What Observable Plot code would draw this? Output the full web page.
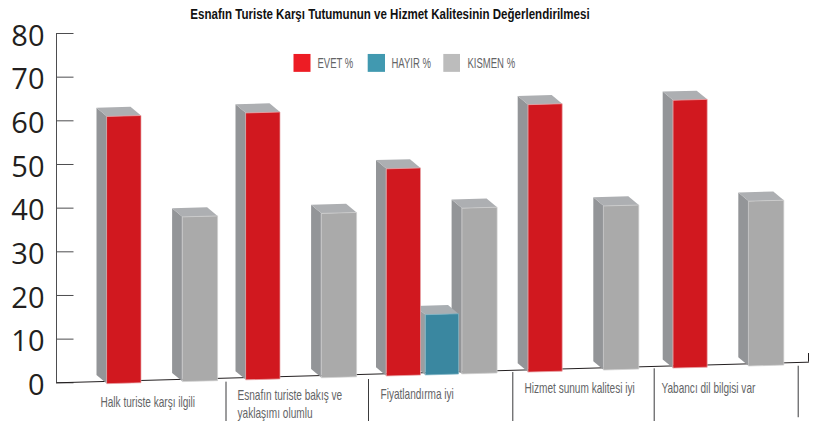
<!DOCTYPE html>
<html><head><meta charset="utf-8">
<script src="https://cdn.jsdelivr.net/npm/d3@7"></script>
<script src="https://cdn.jsdelivr.net/npm/@observablehq/plot@0.6"></script>
<style>html,body{margin:0;padding:0;background:#fff}svg{display:block}</style>
</head><body><div id="chart"></div>
<script>
const title = "Esnafın Turiste Karşı Tutumunun ve Hizmet Kalitesinin Değerlendirilmesi";
const categories = ["Halk turiste karşı ilgili","Esnafın turiste bakış ve\nyaklaşımı olumlu","Fiyatlandırma iyi","Hizmet sunum kalitesi iyi","Yabancı dil bilgisi var"];
const seriesNames = ["EVET %","HAYIR %","KISMEN %"];
const evet = [61,61.8,49,63.7,64.7];
const hayir = [null,null,15.6,null,null];
const kismen = [38,38.8,40,40.5,41.6];
const yTicks = [0,10,20,30,40,50,60,70,80];

// layout, in x-scale units
const groupLeft = [106.5,245.5,386,527.7,672.7];
const seriesOffset = {"EVET %":0,"HAYIR %":39,"KISMEN %":75.6};
const seriesWidth = {"EVET %":34,"HAYIR %":33,"KISMEN %":35};
const dividers = [225.5,368,512.3,653.7,797.7];
const labelX = [100,237,380,524,661];
const labelY = [-2.6,-0.85,-0.75,0.6,0.6];
const depthX = 10.5, depthY = 2, tilt = 0.0063, tiltOrigin = 123, under = -0.1;
const font = "'Liberation Sans',sans-serif";
const palette = {
  "EVET %":{front:"#d1181f",side:"#939598",top:"#adafb2",key:"#ed1c24",edge:"#e8a8ab"},
  "HAYIR %":{front:"#3a87a0",side:"#9a9ea1",top:"#a9aeb2",key:"#4199b0",edge:"#7fb5c5"},
  "KISMEN %":{front:"#aaaaaa",side:"#939598",top:"#adafb2",key:"#bcbcbc",edge:"#d0d0d0"}
};
const base = x => under + (x - tiltOrigin) * tilt;

const bars = [];
[["KISMEN %",kismen],["HAYIR %",hayir],["EVET %",evet]].forEach(([s,vals])=>{
  vals.forEach((v,g)=>{ if(v!=null) bars.push({s,g,v}); });
});
const faces = [];
for (const {s,g,v} of bars) {
  const x0 = groupLeft[g]+seriesOffset[s], x1 = x0+seriesWidth[s];
  const top0 = v, top1 = v+(x1-x0)*tilt, b0 = base(x0), b1 = base(x1);
  const id = s+g, c = palette[s];
  const add = (face,pts)=>pts.forEach(([x,y])=>faces.push({id:id+face,face,x,y,fill:c[face],edge:c.edge}));
  add("side",[[x0-depthX,b0+depthY],[x0,b0],[x0,top0],[x0-depthX,top0+depthY]]);
  add("top",[[x0-depthX,top0+depthY],[x1-depthX,top1+depthY],[x1,top1],[x0,top0]]);
  add("front",[[x0,b0],[x1,b1],[x1,top1],[x0,top0]]);
}
const legendRows = seriesNames.map((s,i)=>({s,x1:[293.5,367.7,443.3][i],x2:[310.5,385,460][i],tx:[317,391,467][i]}));
const axisColor = "#4d4d4f", textColor = "#636466";

// The reference's type is condensed: squeeze each text horizontally around its anchor.
const narrow = k => (index,scales,values,dims,context,next) => {
  const g = next(index,scales,values,dims,context);
  d3.select(g).selectAll("text").attr("transform",function(){return (this.getAttribute("transform")||"")+` scale(${k},1)`;});
  return g;
};

const plot = Plot.plot({
  width:817,height:421,marginLeft:56,marginRight:9,marginTop:33,marginBottom:38.7,
  style:{background:"#fff",overflow:"visible"},
  x:{type:"linear",domain:[56,808],range:[56,808],axis:null},
  y:{type:"linear",domain:[0,80],range:[382.3,33],axis:null},
  marks:[
    Plot.axisY({ticks:yTicks,tickSize:0,tickPadding:12,label:null,fontSize:29,dy:3,fontFamily:"'Open Sans',sans-serif",color:"#231f20"}),
    Plot.ruleX([56],{y1:0,y2:80,stroke:axisColor,strokeWidth:1}),
    Plot.ruleY(yTicks,{x1:56,x2:73.5,y:d=>d,stroke:axisColor,strokeWidth:1}),
    Plot.line([[56,0],[808,4.72]],{x:d=>d[0],y:d=>d[1],stroke:"#231f20",strokeWidth:1}),
    Plot.ruleX([808],{y1:4.72,y2:6.7,stroke:"#231f20",strokeWidth:1}),
    Plot.ruleX(dividers,{x:d=>d,y1:(d,i)=>[0.15,0.75,2.35,3.2,3.8][i],y2:(d,i)=>i===4?-8:-9,stroke:"#3b3b3d",strokeWidth:1}),
    Plot.line(faces,{x:"x",y:"y",z:"id",fill:"fill",stroke:"none",curve:"linear-closed"}),
    Plot.line(faces.filter(d=>d.face==="front"),{x:"x",y:"y",z:"id",stroke:"edge",strokeWidth:0.7,curve:"linear-closed"}),
    Plot.rect(legendRows,{x1:"x1",x2:"x2",y1:71.1,y2:75.2,fill:d=>palette[d.s].key}),
    Plot.text(legendRows,{x:"tx",y:73.1,text:"s",textAnchor:"start",fontSize:14,fontFamily:font,fill:textColor,render:narrow(0.68)}),
    Plot.text([title],{x:389.5,y:84.4,text:d=>d,fontSize:14,fontWeight:"bold",fontFamily:font,fill:"#111",render:narrow(0.825)}),
    Plot.text(categories,{x:(d,i)=>labelX[i],y:(d,i)=>labelY[i],text:d=>d,textAnchor:"start",lineAnchor:"top",lineHeight:1.33,fontSize:14,fontFamily:font,fill:textColor,render:narrow(0.72)})
  ]
});
document.getElementById("chart").appendChild(plot);
</script></body></html>
